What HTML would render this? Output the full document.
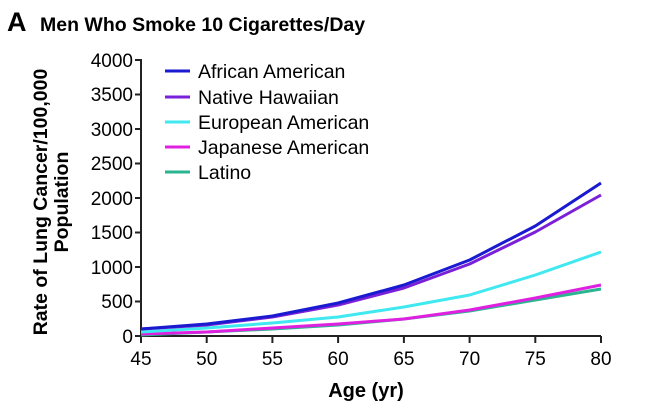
<!DOCTYPE html>
<html><head><meta charset="utf-8"><style>body{margin:0;background:#fff}svg{display:block}</style></head><body>
<svg width="656" height="408" xmlns="http://www.w3.org/2000/svg" font-family="Liberation Sans, Arial, sans-serif">
<text x="7" y="31" font-size="27" font-weight="bold">A</text>
<text x="40" y="31" font-size="19.5" font-weight="bold">Men Who Smoke 10 Cigarettes/Day</text>
<g transform="translate(47,202) rotate(-90)" font-size="19.5" font-weight="bold" text-anchor="middle">
<text x="0" y="0">Rate of Lung Cancer/100,000</text>
<text x="0" y="21">Population</text>
</g>
<g stroke="#222" stroke-width="2" fill="none">
<path d="M141,59 V336 H601"/>
<path d="M135,60H141M135,94.5H141M135,129H141M135,163.5H141M135,198H141M135,232.5H141M135,267H141M135,301.5H141M135,336H141"/>
<path d="M141,336v7M206.7,336v7M272.4,336v7M338.1,336v7M403.9,336v7M469.6,336v7M535.3,336v7M601,336v7"/>
</g>
<g font-size="19" text-anchor="end">
<text x="133" y="67">4000</text><text x="133" y="101">3500</text><text x="133" y="136">3000</text><text x="133" y="170">2500</text><text x="133" y="205">2000</text><text x="133" y="239">1500</text><text x="133" y="274">1000</text><text x="133" y="308">500</text><text x="133" y="343">0</text>
</g>
<g font-size="19" text-anchor="middle">
<text x="141" y="365">45</text><text x="206.7" y="365">50</text><text x="272.4" y="365">55</text><text x="338.1" y="365">60</text><text x="403.9" y="365">65</text><text x="469.6" y="365">70</text><text x="535.3" y="365">75</text><text x="601" y="365">80</text>
</g>
<text x="366" y="397" font-size="20" font-weight="bold" text-anchor="middle">Age (yr)</text>
<g fill="none" stroke-width="3" stroke-linejoin="round">
<path stroke="#2ab590" d="M141,335 L206.7,332 L272.4,329 L338.1,325 L403.9,319 L469.6,311 L535.3,300 L601,289"/>
<path stroke="#e020e0" d="M141,334 L206.7,332 L272.4,328 L338.1,324 L403.9,319 L469.6,310 L535.3,298 L601,285"/>
<path stroke="#40e8f0" d="M141,332 L206.7,328 L272.4,323 L338.1,317 L403.9,307 L469.6,295 L535.3,275 L601,252"/>
<path stroke="#7a20d8" d="M141,329 L206.7,325 L272.4,317 L338.1,305 L403.9,288 L469.6,264 L535.3,232 L601,195"/>
<path stroke="#1a1ad0" d="M141,329 L206.7,324 L272.4,316 L338.1,303 L403.9,285 L469.6,260 L535.3,226 L601,183"/>
</g>
<g stroke-width="3">
<line x1="165" y1="71" x2="190" y2="71" stroke="#1a1ad0"/>
<line x1="165" y1="97" x2="190" y2="97" stroke="#7a20d8"/>
<line x1="165" y1="122" x2="190" y2="122" stroke="#40e8f0"/>
<line x1="165" y1="147" x2="190" y2="147" stroke="#e020e0"/>
<line x1="165" y1="172" x2="190" y2="172" stroke="#2ab590"/>
</g>
<g font-size="19.5">
<text x="198" y="78">African American</text>
<text x="198" y="104">Native Hawaiian</text>
<text x="198" y="129">European American</text>
<text x="198" y="154">Japanese American</text>
<text x="198" y="179">Latino</text>
</g>
</svg>
</body></html>
